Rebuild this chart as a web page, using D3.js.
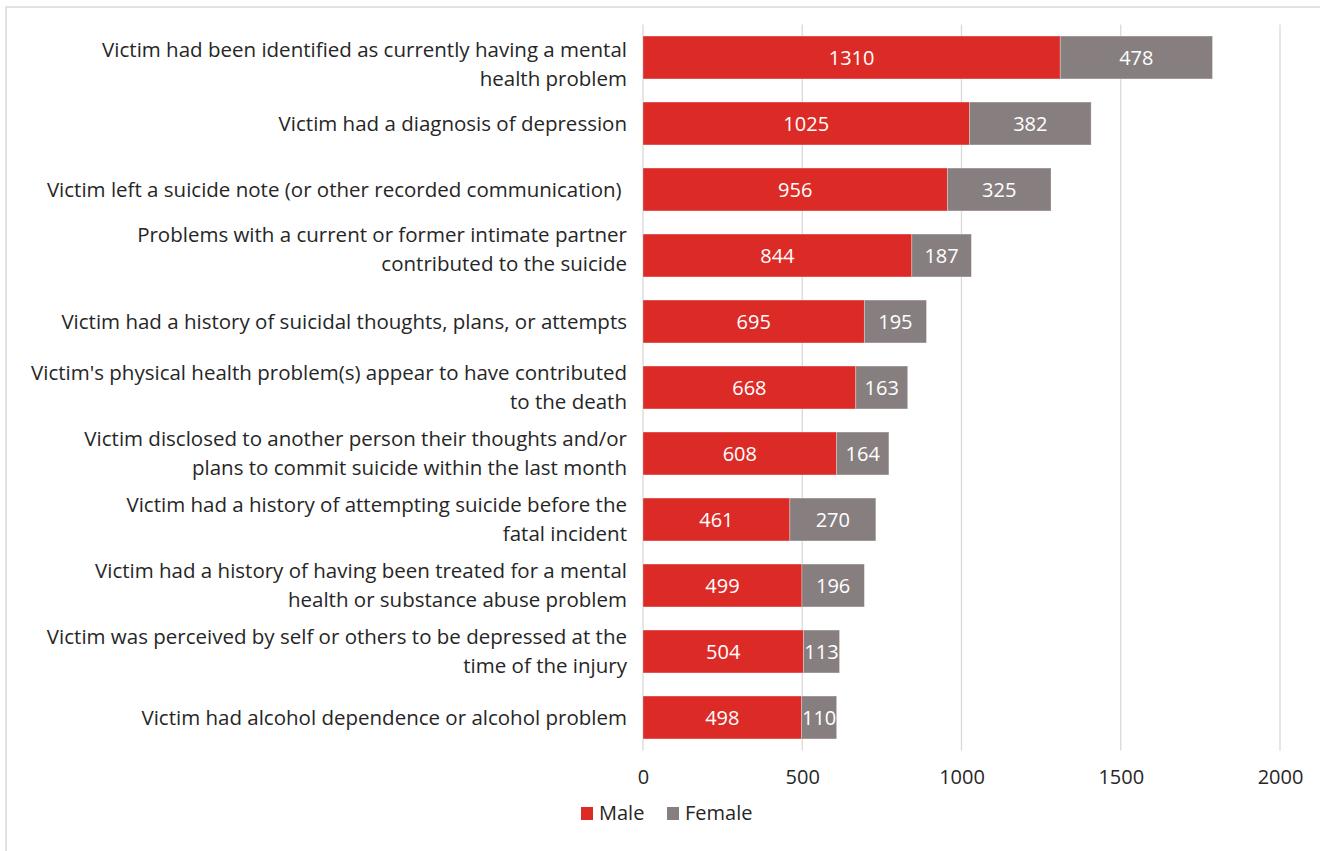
<!DOCTYPE html>
<html>
<head>
<meta charset="utf-8">
<script src="https://cdn.jsdelivr.net/npm/d3@7"></script>
<style>
  html, body { margin: 0; padding: 0; background: #fff; }
  svg text { font-family: "Open Sans", sans-serif; }
</style>
</head>
<body>
<svg id="chart" width="1320" height="851"></svg>
<script>
const categories = [
  ["Victim had been identified as currently having a mental", "health problem"],
  ["Victim had a diagnosis of depression"],
  ["Victim left a suicide note (or other recorded communication) "],
  ["Problems with a current or former intimate partner", "contributed to the suicide"],
  ["Victim had a history of suicidal thoughts, plans, or attempts"],
  ["Victim's physical health problem(s) appear to have contributed", "to the death"],
  ["Victim disclosed to another person their thoughts and/or", "plans to commit suicide within the last month"],
  ["Victim had a history of attempting suicide before the", "fatal incident"],
  ["Victim had a history of having been treated for a mental", "health or substance abuse problem"],
  ["Victim was perceived by self or others to be depressed at the", "time of the injury"],
  ["Victim had alcohol dependence or alcohol problem"]
];
const maleValues = [1310, 1025, 956, 844, 695, 668, 608, 461, 499, 504, 498];
const femaleValues = [478, 382, 325, 187, 195, 163, 164, 270, 196, 113, 110];
const tickValues = [0, 500, 1000, 1500, 2000];
const seriesNames = ["Male", "Female"];
const seriesColors = ["#DC2B27", "#877F7F"];

(function () {
const svg = d3.select("#chart");
const FS = 20;
const LFS = 20.5;
const TXT = "#262626";

svg.append("rect").attr("x", 6).attr("y", 7).attr("width", 1330).attr("height", 860)
  .attr("fill", "none").attr("stroke", "#d9d9d9").attr("stroke-width", 1.5);

const pL = 643, pR = 1280, pT = 24.5, pB = 750.5;
const x = d3.scaleLinear().domain([0, 2000]).range([pL, pR]);
const idx = d3.range(categories.length);
const y = d3.scaleBand().domain(idx).range([pT, pB]).paddingInner(0.35).paddingOuter(0.175);

svg.append("g").selectAll("line").data(tickValues).join("line")
  .attr("x1", d => x(d)).attr("x2", d => x(d))
  .attr("y1", pT).attr("y2", pB)
  .attr("stroke", "#d9d9d9").attr("stroke-width", 1.3);

const axis = d3.axisBottom(x).tickValues(tickValues).tickSize(0).tickPadding(0).tickFormat(d3.format("d"));
const ag = svg.append("g").attr("transform", `translate(0, ${pB})`).call(axis);
ag.select(".domain").remove();
ag.selectAll("text").attr("font-size", FS).attr("fill", TXT).attr("dy", 0).attr("y", 33.5)
  .style("font-family", "'Open Sans', sans-serif");

const g = svg.append("g");
idx.forEach(i => {
  const m = maleValues[i], f = femaleValues[i];
  const segs = [
    { x0: 0, x1: m, v: m, c: seriesColors[0] },
    { x0: m, x1: m + f, v: f, c: seriesColors[1] }
  ];
  segs.forEach(s => {
    g.append("rect")
      .attr("x", x(s.x0)).attr("y", y(i))
      .attr("width", x(s.x1) - x(s.x0)).attr("height", y.bandwidth())
      .attr("fill", s.c).attr("stroke", "rgba(255,255,255,0.35)").attr("stroke-width", 0.8);
    g.append("text")
      .attr("x", (x(s.x0) + x(s.x1)) / 2).attr("y", y(i) + y.bandwidth() / 2 + 7)
      .attr("text-anchor", "middle")
      .attr("fill", "#fff").attr("font-size", FS)
      .text(s.v);
  });
});

const nudge = { 0: 6.5, 3: -6.5 };
const lg = svg.append("g");
categories.forEach((lines, i) => {
  const cy = y(i) + y.bandwidth() / 2 + 1.5 + (nudge[i] || 0);
  const lh = 29;
  const t = lg.append("text").attr("text-anchor", "end").attr("font-size", LFS).attr("fill", TXT)
    .attr("xml:space", "preserve");
  lines.forEach((ln, k) => {
    t.append("tspan").attr("x", 627)
      .attr("y", cy + (k - (lines.length - 1) / 2) * lh + 5.5)
      .text(ln);
  });
});

const leg = svg.append("g");
const legItems = [{ n: seriesNames[0], c: seriesColors[0], x: 581 }, { n: seriesNames[1], c: seriesColors[1], x: 667 }];
legItems.forEach(it => {
  leg.append("rect").attr("x", it.x).attr("y", 807).attr("width", 12).attr("height", 13).attr("fill", it.c);
  leg.append("text").attr("x", it.x + 18).attr("y", 820)
    .attr("font-size", FS).attr("fill", TXT).text(it.n);
});
})();
</script>
</body>
</html>
